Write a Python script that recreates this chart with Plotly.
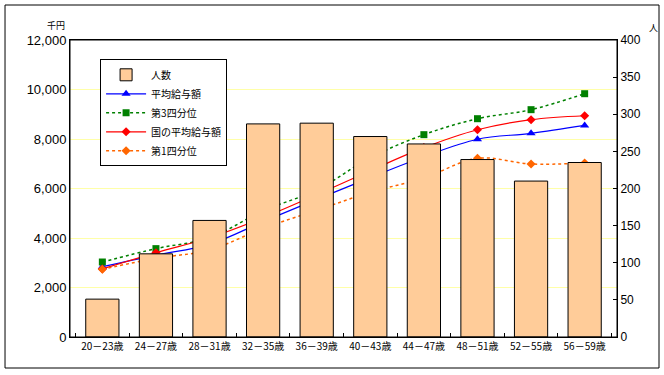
import plotly.graph_objects as go

categories = ["20－23歳", "24－27歳", "28－31歳", "32－35歳", "36－39歳",
              "40－43歳", "44－47歳", "48－51歳", "52－55歳", "56－59歳"]
persons = [51, 112, 157, 287, 288, 270, 260, 239, 210, 235]
avg_pay = [2840, 3310, 3745, 4660, 5560, 6440, 7285, 7990, 8230, 8550]
q3_pay = [3030, 3570, 4010, 5100, 5940, 7245, 8175, 8820, 9185, 9830]
nat_avg_pay = [2750, 3405, 4010, 4820, 5750, 6720, 7650, 8375, 8780, 8940]
q1_pay = [2735, 3180, 3515, 4390, 5120, 5845, 6425, 7220, 6990, 7030]
left_ticks = [0, 2000, 4000, 6000, 8000, 10000, 12000]
right_ticks = [0, 50, 100, 150, 200, 250, 300, 350, 400]

FONT = "Noto Sans CJK JP"

fig = go.Figure()
fig.add_trace(go.Bar(
    x=categories, y=persons, name="人数", yaxis="y2",
    marker=dict(color="#FFCC99", line=dict(color="black", width=1)),
    width=0.62,
))
fig.add_trace(go.Scatter(
    x=categories, y=avg_pay, name="平均給与額", mode="lines+markers",
    line=dict(color="#0000FF", width=1.2, shape="spline"),
    marker=dict(symbol="triangle-up", size=8, color="#0000FF"),
))
fig.add_trace(go.Scatter(
    x=categories, y=q3_pay, name="第3四分位", mode="lines+markers",
    line=dict(color="#008000", width=1.5, dash="dot", shape="spline"),
    marker=dict(symbol="square", size=7, color="#008000"),
))
fig.add_trace(go.Scatter(
    x=categories, y=nat_avg_pay, name="国の平均給与額", mode="lines+markers",
    line=dict(color="#FF0000", width=1.2, shape="spline"),
    marker=dict(symbol="diamond", size=7, color="#FF0000"),
))
fig.add_trace(go.Scatter(
    x=categories, y=q1_pay, name="第1四分位", mode="lines+markers",
    line=dict(color="#FF6600", width=1.5, dash="dot", shape="spline"),
    marker=dict(symbol="diamond", size=7, color="#FF6600"),
))

fig.update_layout(
    width=664, height=375,
    margin=dict(l=70, r=47, t=40, b=38),
    paper_bgcolor="white", plot_bgcolor="white",
    font=dict(family=FONT, color="black", size=11),
    showlegend=True,
    legend=dict(
        x=0.055, y=0.935, xanchor="left", yanchor="top",
        bordercolor="black", borderwidth=1, bgcolor="white",
        font=dict(size=10, family=FONT), tracegroupgap=0,
        itemwidth=40,
    ),
    xaxis=dict(
        showline=True, linecolor="black", linewidth=1, mirror=True,
        ticks="inside", ticklen=4, tickcolor="black",
        tickson="boundaries", tickangle=0,
        tickfont=dict(size=10, family=FONT),
        showgrid=False,
    ),
    yaxis=dict(
        range=[0, 12000], tickvals=left_ticks,
        ticktext=[f"{v:,}" for v in left_ticks],
        showline=True, linecolor="black", linewidth=1,
        showgrid=True, gridcolor="#FFFFA8", gridwidth=1,
        ticks="", tickfont=dict(size=13, family="Liberation Sans"),
        zeroline=False,
    ),
    yaxis2=dict(
        range=[0, 400], tickvals=right_ticks, overlaying="y", side="right",
        showline=True, linecolor="black", linewidth=1,
        ticks="inside", ticklen=4, tickcolor="black",
        showgrid=False, zeroline=False,
        tickfont=dict(size=12, family="Liberation Sans"),
    ),
    shapes=[
        dict(type="rect", xref="paper", yref="paper",
             x0=-0.1188, x1=1.0768, y0=-0.1044, y1=1.1178,
             line=dict(color="black", width=1), fillcolor="rgba(0,0,0,0)", layer="above"),
        dict(type="rect", xref="paper", yref="paper",
             x0=0, x1=1, y0=0, y1=1,
             line=dict(color="black", width=1), fillcolor="rgba(0,0,0,0)", layer="above"),
    ],
    annotations=[
        dict(text="千円", xref="paper", yref="paper", x=-0.005, y=1.02,
             xanchor="right", yanchor="bottom", showarrow=False,
             font=dict(size=9, family=FONT)),
        dict(text="人", xref="paper", yref="paper", x=1.055, y=1.015,
             xanchor="left", yanchor="bottom", showarrow=False,
             font=dict(size=9, family=FONT)),
    ],
)

fig.write_html("out.html", config={"displayModeBar": False},
               post_script="document.body.style.margin='0';")
